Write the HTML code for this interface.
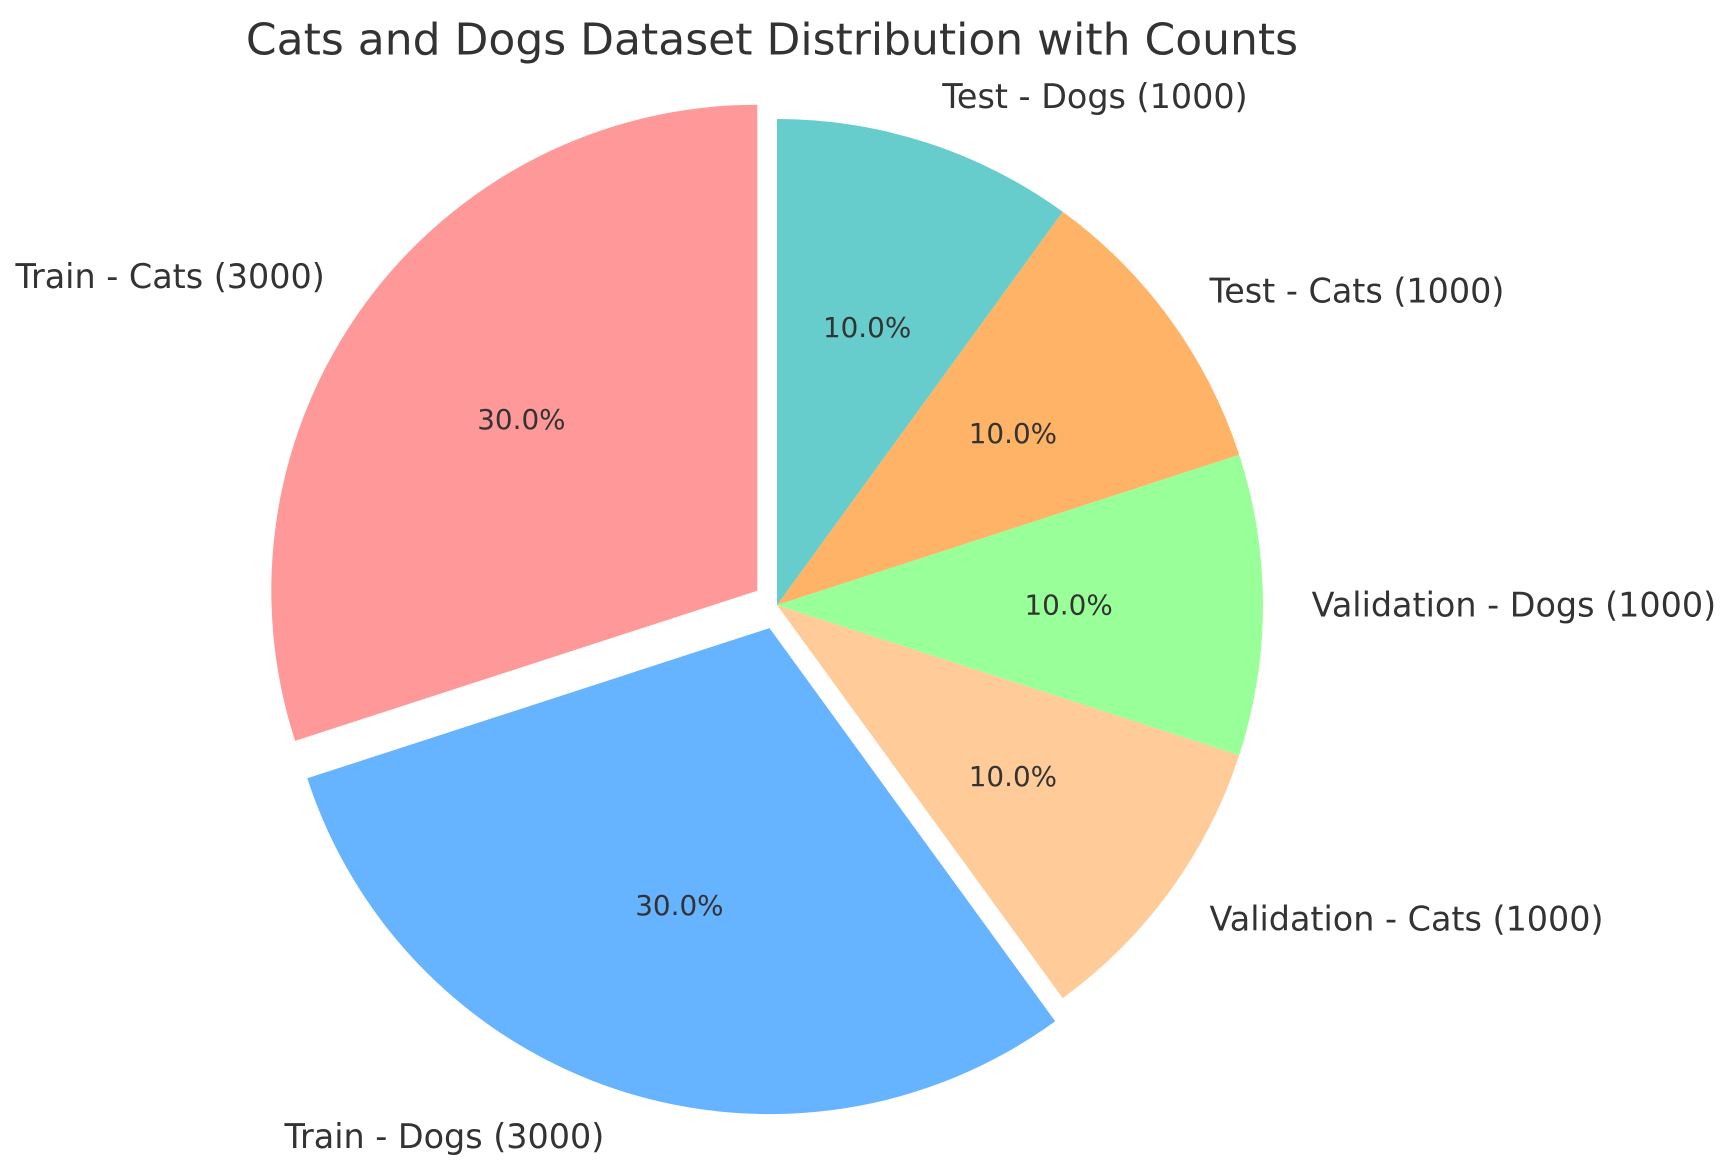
<!DOCTYPE html>
<html><head><meta charset="utf-8"><style>html,body{margin:0;padding:0;background:#fff}svg{display:block}</style></head><body>
<svg width="1734" height="1170" viewBox="0 0 1734 1170" xmlns="http://www.w3.org/2000/svg" font-family="DejaVu Sans, Liberation Sans, sans-serif" fill="#333">
<g transform="translate(-5,-3)">
<path d="M762.3,593.7 L762.3,107.7 A486,486 0 0 0 300.1,743.9 Z" fill="#ff9999"/>
<path d="M774.5,631.1 L312.3,781.3 A486,486 0 0 0 1060.2,1024.3 Z" fill="#66b3ff"/>
<path d="M782,608 L1067.7,1001.2 A486,486 0 0 0 1244.2,758.2 Z" fill="#ffcc99"/>
<path d="M782,608 L1244.2,758.2 A486,486 0 0 0 1244.2,457.8 Z" fill="#99ff99"/>
<path d="M782,608 L1244.2,457.8 A486,486 0 0 0 1067.7,214.8 Z" fill="#ffb366"/>
<path d="M782,608 L1067.7,214.8 A486,486 0 0 0 782,122 Z" fill="#66cccc"/>
<g font-size="33.4" dominant-baseline="central">
<text x="329.8" y="279.5" text-anchor="end">Train - Cats (3000)</text>
<text x="609.3" y="1139.5" text-anchor="end">Train - Dogs (3000)</text>
<text x="1214.5" y="922.2">Validation - Cats (1000)</text>
<text x="1316.6" y="608">Validation - Dogs (1000)</text>
<text x="1214.5" y="293.8">Test - Cats (1000)</text>
<text x="947.2" y="99.6">Test - Dogs (1000)</text>
</g>
<g font-size="27.8" text-anchor="middle" dominant-baseline="central">
<text x="526.4" y="422.3">30.0%</text>
<text x="684.4" y="908.4">30.0%</text>
<text x="1017.9" y="779.4">10.0%</text>
<text x="1073.6" y="608">10.0%</text>
<text x="1017.9" y="436.6">10.0%</text>
<text x="872.1" y="330.7">10.0%</text>
</g>
</g>
<g font-size="44" text-anchor="middle" dominant-baseline="central"><text x="772" y="40">Cats and Dogs Dataset Distribution with Counts</text></g>
</svg>
</body></html>
